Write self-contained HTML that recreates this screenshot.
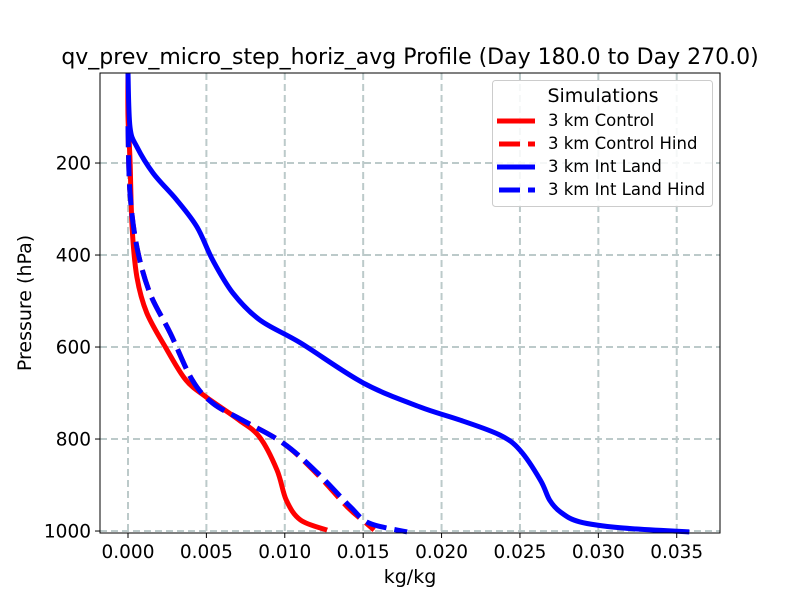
<!DOCTYPE html>
<html><head><meta charset="utf-8"><style>
body{margin:0;background:#fff;}
svg text{font-family:"DejaVu Sans","Liberation Sans",sans-serif;fill:#000;}
</style></head><body>
<svg id="chart" width="800" height="600" xmlns="http://www.w3.org/2000/svg">
<rect width="800" height="600" fill="#fff"/>
<text x="410" y="64" font-size="22" text-anchor="middle">qv_prev_micro_step_horiz_avg Profile (Day 180.0 to Day 270.0)</text>
<g id="grid"></g>
<g id="series"></g>
<rect x="100" y="73" width="620" height="460" fill="none" stroke="#000" stroke-width="1"/>
<g id="axes"></g>
<text x="410" y="583" font-size="19" text-anchor="middle">kg/kg</text>
<text transform="translate(31,303) rotate(-90)" font-size="19" text-anchor="middle">Pressure (hPa)</text>
<g>
<rect x="492.5" y="80.5" width="220" height="126" rx="3" fill="#fff" fill-opacity="0.85" stroke="#ccc"/>
<text x="603" y="102" font-size="19" text-anchor="middle">Simulations</text>
<g><line x1="497" y1="121" x2="535" y2="121" stroke="#ff0000" stroke-width="5"/><text x="548" y="126" font-size="16.5">3 km Control</text></g>
<g><line x1="499" y1="144" x2="535" y2="144" stroke="#ff0000" stroke-width="5" stroke-dasharray="21,8"/><text x="548" y="149" font-size="16.5">3 km Control Hind</text></g>
<g><line x1="497" y1="167" x2="535" y2="167" stroke="#0000ff" stroke-width="5"/><text x="548" y="172" font-size="16.5">3 km Int Land</text></g>
<g><line x1="499" y1="190" x2="535" y2="190" stroke="#0000ff" stroke-width="5" stroke-dasharray="21,8"/><text x="548" y="195" font-size="16.5">3 km Int Land Hind</text></g>
</g>
</svg>
<script>
const xTicks=[0,0.005,0.010,0.015,0.020,0.025,0.030,0.035];
const xTickLabels=["0.000","0.005","0.010","0.015","0.020","0.025","0.030","0.035"];
const yTicks=[200,400,600,800,1000];
const controlP=[4,100,193,339,448,526,607,672,709,759,796,867,933,976,998];
const controlX=[0,0,0.00013,0.00026,0.00057,0.0012,0.0025,0.0037,0.0050,0.0071,0.0084,0.0095,0.0101,0.0110,0.0127];
const controlHindP=[120,265,383,483,570,672,722,759,809,874,948,983,998];
const controlHindX=[0,0.00013,0.00057,0.0014,0.0027,0.0041,0.0054,0.0073,0.0099,0.0120,0.0140,0.0152,0.0157];
const intLandP=[4,122,165,222,280,339,411,483,541,591,678,730,759,791,824,889,933,959,980,993,1002];
const intLandX=[0,0.00013,0.00057,0.0016,0.0031,0.0044,0.0054,0.0067,0.0084,0.0110,0.0150,0.0186,0.0212,0.0237,0.0250,0.0263,0.0269,0.0276,0.0288,0.0314,0.0358];
const intLandHindP=[120,265,383,483,570,672,722,759,809,874,948,983,1002];
const intLandHindX=[0,0.00013,0.00057,0.0014,0.0027,0.0041,0.0054,0.0073,0.0099,0.0121,0.0142,0.0154,0.0178];

const NS="http://www.w3.org/2000/svg";
const X0=100,X1=720,Y0=73,Y1=533;
const xMin=-0.001786,xMax=0.03776,pTop=4.3,pBot=1004.3;
function xs(v){return X0+(v-xMin)/(xMax-xMin)*(X1-X0);}
function ys(p){return Y0+(p-pTop)/(pBot-pTop)*(Y1-Y0);}
function mk(tag,attrs,parent){const e=document.createElementNS(NS,tag);for(const k in attrs)e.setAttribute(k,attrs[k]);parent.appendChild(e);return e;}
const grid=document.getElementById('grid'),axes=document.getElementById('axes'),series=document.getElementById('series');
xTicks.forEach((t,i)=>{
  const x=xs(t);
  const g=mk('line',{x1:x,y1:Y0,x2:x,y2:Y1,stroke:'#bccaca',"stroke-width":2,"stroke-dasharray":"7,4"},grid);
  
  
  const tk=mk('line',{x1:x,y1:Y1,x2:x,y2:Y1+5,stroke:'#000'},axes);
  
  
  const tl=mk('text',{x:x,y:Y1+25,"font-size":18.5,"text-anchor":"middle"},axes);
  tl.textContent=xTickLabels[i];
  
  
});
yTicks.forEach(t=>{
  const y=ys(t);
  const g=mk('line',{x1:X0,y1:y,x2:X1,y2:y,stroke:'#bccaca',"stroke-width":2,"stroke-dasharray":"7,4"},grid);
  
  
  const tk=mk('line',{x1:X0-5,y1:y,x2:X0,y2:y,stroke:'#000'},axes);
  
  
  const tl=mk('text',{x:X0-9,y:y+6.5,"font-size":18.5,"text-anchor":"end"},axes);
  tl.textContent=String(t);
  
  
});
function smoothPath(P){
  let d='M'+P[0][0].toFixed(1)+','+P[0][1].toFixed(1);
  for(let i=0;i<P.length-1;i++){
    const p0=P[Math.max(0,i-1)],p1=P[i],p2=P[i+1],p3=P[Math.min(P.length-1,i+2)];
    const c1x=p1[0]+(p2[0]-p0[0])/6,c1y=p1[1]+(p2[1]-p0[1])/6;
    const c2x=p2[0]-(p3[0]-p1[0])/6,c2y=p2[1]-(p3[1]-p1[1])/6;
    d+=' C'+c1x.toFixed(1)+','+c1y.toFixed(1)+' '+c2x.toFixed(1)+','+c2y.toFixed(1)+' '+p2[0].toFixed(1)+','+p2[1].toFixed(1);
  }
  return d;
}
function draw(xv,pv,color,dash,name){
  const P=xv.map((v,i)=>[xs(v),ys(pv[i])]);
  const attrs={d:smoothPath(P),fill:'none',stroke:color,"stroke-width":5,"stroke-linejoin":"round"};
  if(dash)attrs["stroke-dasharray"]="21,8";
  const l=mk('path',attrs,series);
  
  
}
draw(controlX,controlP,'#ff0000',false,'control-line');
draw(controlHindX,controlHindP,'#ff0000',true,'control-hind-line');
draw(intLandX,intLandP,'#0000ff',false,'int-land-line');
draw(intLandHindX,intLandHindP,'#0000ff',true,'int-land-hind-line');
</script>
</body></html>
